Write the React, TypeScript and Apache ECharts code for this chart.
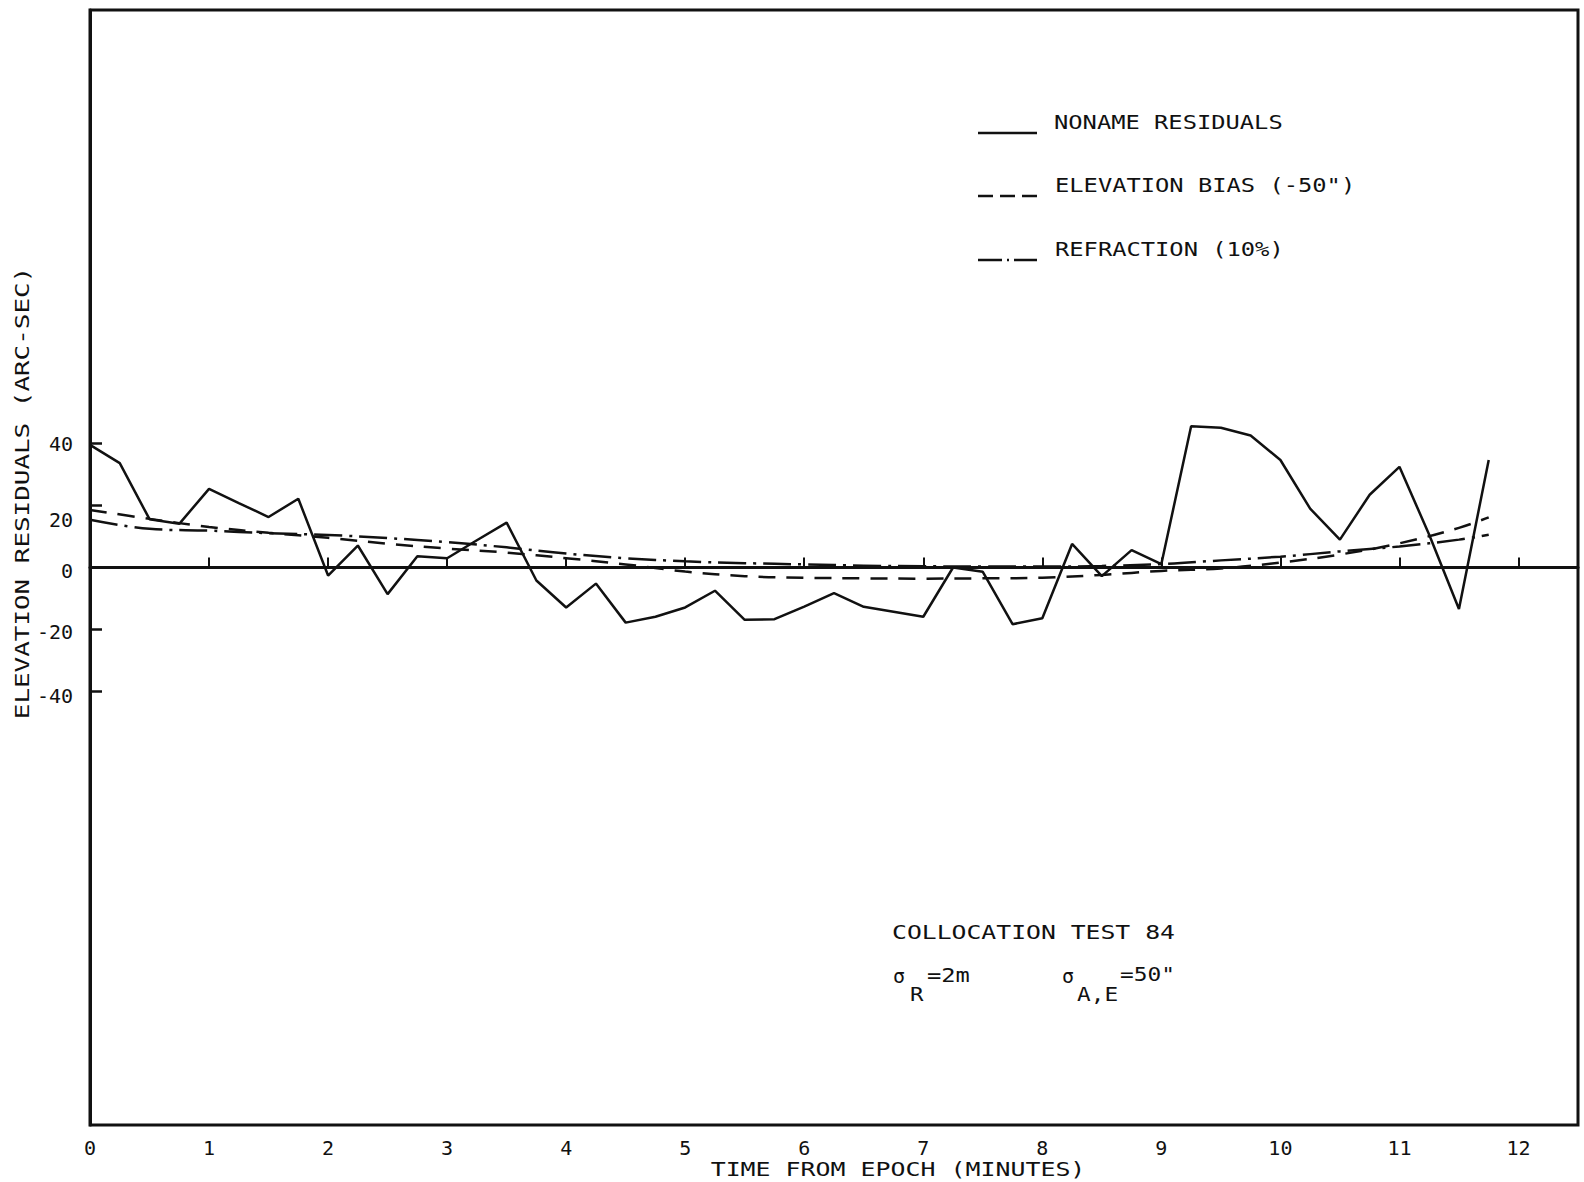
import React, { useEffect, useRef } from "react";
import * as echarts from "echarts";

// ---- data ----
const TIME = [
  0, 0.25, 0.5, 0.75, 1, 1.25, 1.5, 1.75, 2, 2.25, 2.5, 2.75, 3, 3.25, 3.5, 3.75,
  4, 4.25, 4.5, 4.75, 5, 5.25, 5.5, 5.75, 6, 6.25, 6.5, 6.75, 7, 7.25, 7.5, 7.75,
  8, 8.25, 8.5, 8.75, 9, 9.25, 9.5, 9.75, 10, 10.25, 10.5, 10.75, 11, 11.25, 11.5, 11.75,
];
const NONAME = [
  39.6, 33.7, 15.6, 14.1, 25.4, 20.8, 16.3, 22.2, -2.6, 7.1, -8.6, 3.6, 3.0, 8.8, 14.5, -4.2,
  -12.9, -5.2, -17.8, -15.9, -12.9, -7.5, -16.9, -16.7, -12.6, -8.3, -12.7, -14.3, -15.9, 0, -1.4, -18.3,
  -16.4, 7.6, -2.8, 5.6, 1.1, 45.6, 45.1, 42.6, 34.7, 19.0, 9.0, 23.5, 32.5, 10.6, -13.4, 34.7,
];
const CURVE_TIME = [
  0, 0.5, 1, 1.5, 2, 2.5, 3, 3.5, 4, 4.5, 5, 5.5, 6, 6.5, 7, 7.5, 8, 8.5, 9, 9.5, 10, 10.5, 11, 11.5, 11.75,
];
const ELEV_BIAS = [
  18.6, 15.7, 13.1, 11.2, 9.6, 7.7, 6.1, 4.8, 3.0, 1.0, -1.3, -2.8, -3.3, -3.5, -3.6, -3.5, -3.3, -2.4, -1.1,
  -0.3, 1.6, 4.2, 7.8, 12.8, 16.2,
];
const REFRACTION = [
  15.4, 12.5, 11.9, 11.1, 10.5, 9.5, 8.2, 6.5, 4.5, 3.0, 2.0, 1.4, 1.0, 0.6, 0.4, 0.3, 0.3, 0.5, 1.1, 2.3,
  3.5, 5.2, 6.8, 9.0, 10.6,
];
const X_TICKS = [0, 1, 2, 3, 4, 5, 6, 7, 8, 9, 10, 11, 12];
const Y_TICKS = [-40, -20, 0, 20, 40];
const LEGEND_NAMES = ["NONAME RESIDUALS", "ELEVATION BIAS (-50\")", "REFRACTION (10%)"];

const FONT = '"DejaVu Sans Mono", "Liberation Mono", monospace';
const FS = 19;
const ADV = FS * 0.602;

function txt(str: string, x: number, y: number, perChar: number, align = "left", rotation = 0) {
  return {
    type: "text",
    x,
    y,
    rotation,
    scaleX: perChar / ADV,
    silent: true,
    style: {
      text: str,
      x: 0,
      y: 0,
      font: `${FS}px ${FONT}`,
      fill: "#111",
      textAlign: align,
      textVerticalAlign: "middle",
    },
  };
}

function seg(x1: number, y: number, x2: number, dash: number[] | null) {
  return {
    type: "line",
    silent: true,
    shape: { x1, y1: y, x2, y2: y },
    style: { stroke: "#111", lineWidth: 2.5, lineDash: dash || undefined },
  };
}

export default function App() {
  const ref = useRef<HTMLDivElement>(null);
  useEffect(() => {
    if (!ref.current) return;
    const chart = echarts.init(ref.current, undefined, { renderer: "svg" });
    const pairs = (xs: number[], ys: number[]) => xs.map((x, i) => [x, ys[i]]);
    const labelRich = { fontFamily: FONT, fontSize: 20, color: "#111" };
    const option: any = {
      animation: false,
      backgroundColor: "#fff",
      grid: {
        left: 90,
        right: 6,
        top: 10,
        bottom: 57,
        show: true,
        borderColor: "#111",
        borderWidth: 3,
        backgroundColor: "transparent",
      },
      xAxis: {
        type: "value",
        min: 0,
        max: 12.5,
        interval: 1,
        splitLine: { show: false },
        axisLine: { show: true, lineStyle: { color: "#111", width: 3 } },
        axisTick: {
          show: true,
          inside: true,
          length: 10,
          customValues: X_TICKS,
          lineStyle: { color: "#111", width: 2 },
        },
        axisLabel: {
          customValues: X_TICKS,
          color: "#111",
          fontFamily: FONT,
          fontSize: 20,
          margin: 13,
          formatter: (v: number) => String(v),
        },
      },
      yAxis: {
        type: "value",
        min: -180,
        max: 180,
        interval: 20,
        splitLine: { show: false },
        axisLine: { show: true, lineStyle: { color: "#111", width: 3 } },
        axisTick: {
          show: true,
          inside: true,
          length: 12,
          customValues: Y_TICKS,
          lineStyle: { color: "#111", width: 2.5 },
        },
        axisLabel: {
          customValues: Y_TICKS,
          color: "#111",
          fontFamily: FONT,
          fontSize: 20,
          margin: 17,
          formatter: (v: number) => {
            if (v === 20) return "{dn|20}";
            if (v === -40) return "{dn2|-40}";
            if (v === 0 || v === -20) return "{dn3|" + v + "}";
            return String(v);
          },
          rich: {
            dn: { ...labelRich, padding: [28, 0, 0, 0] },
            dn2: { ...labelRich, padding: [10, 0, 0, 0] },
            dn3: { ...labelRich, padding: [6, 0, 0, 0] },
          },
        },
      },
      series: [
        {
          name: LEGEND_NAMES[0],
          type: "line",
          data: pairs(TIME, NONAME),
          symbol: "none",
          lineStyle: { color: "#111", width: 2.5, type: "solid" },
          markLine: {
            silent: true,
            symbol: ["none", "none"],
            label: { show: false },
            lineStyle: { color: "#111", width: 2, type: "solid" },
            data: [{ yAxis: 0 }],
          },
          z: 3,
        },
        {
          name: LEGEND_NAMES[1],
          type: "line",
          data: pairs(CURVE_TIME, ELEV_BIAS),
          symbol: "none",
          smooth: 0.4,
          lineStyle: { color: "#111", width: 2.5, type: [17, 11] },
          z: 2,
        },
        {
          name: LEGEND_NAMES[2],
          type: "line",
          data: pairs(CURVE_TIME, REFRACTION),
          symbol: "none",
          smooth: 0.4,
          lineStyle: { color: "#111", width: 2.5, type: [28, 7, 3, 7] },
          z: 2,
        },
      ],
      graphic: [
        // axis titles
        txt("ELEVATION RESIDUALS (ARC-SEC)", 22, 493, 15.6, "center", Math.PI / 2),
        txt("TIME FROM EPOCH (MINUTES)", 898, 1169, 15.0, "center"),
        // legend
        seg(978, 133, 1037, null),
        txt(LEGEND_NAMES[0], 1054, 122, 14.3),
        seg(978, 196, 1037, [15, 7]),
        txt(LEGEND_NAMES[1], 1055, 185, 14.3),
        seg(978, 260, 1037, [24, 5, 2, 5]),
        txt(LEGEND_NAMES[2], 1055, 249, 14.3),
        // annotation
        txt("COLLOCATION TEST 84", 892, 933, 14.9),
        txt("σ", 893, 977, 12),
        txt("R", 910, 995, 13.5),
        txt("=2m", 927, 975, 14.3),
        txt("σ", 1062, 977, 12),
        txt("A,E", 1077, 995, 13.7),
        txt("=50\"", 1120, 975, 13.75),
      ],
    };
    chart.setOption(option);
    return () => chart.dispose();
  }, []);
  return (
    <div
      ref={ref}
      style={{ position: "fixed", left: 0, top: 0, width: 1584, height: 1182, background: "#fff" }}
    />
  );
}
